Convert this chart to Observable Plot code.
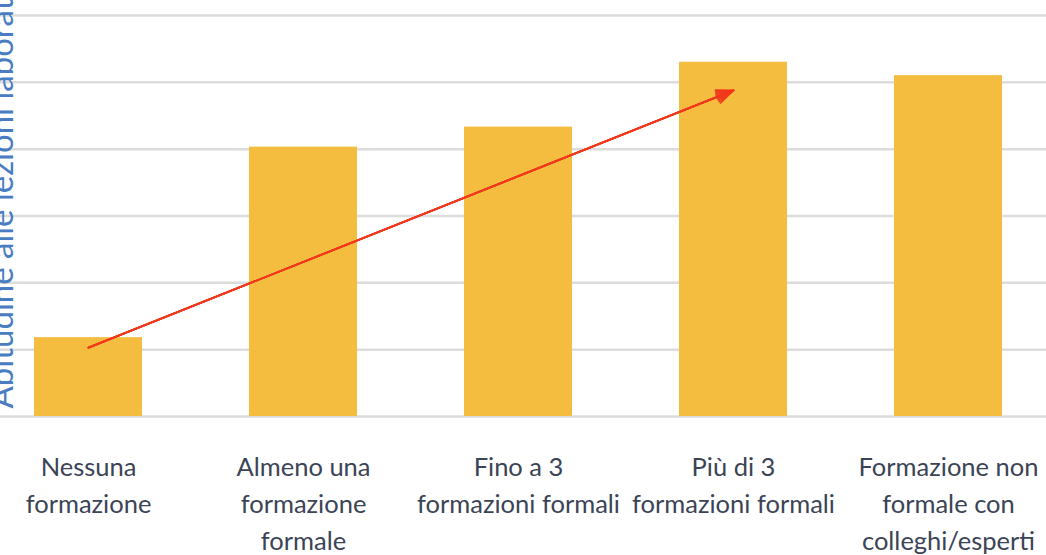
<!DOCTYPE html>
<html>
<head>
<meta charset="utf-8">
<script src="https://cdn.jsdelivr.net/npm/d3@7"></script>
<script src="https://cdn.jsdelivr.net/npm/@observablehq/plot@0.6"></script>
<style>
  html, body { margin: 0; padding: 0; background: #fff; overflow: hidden; }
</style>
</head>
<body>
<div id="chart"></div>
<script>
const categories = [
  "Nessuna\nformazione",
  "Almeno una\nformazione\nformale",
  "Fino a 3\nformazioni formali",
  "Più di 3\nformazioni formali",
  "Formazione non\nformale con\ncolleghi/esperti"
];
const values = [1.18, 4.03, 4.33, 5.30, 5.10];
const gridValues = [0, 1, 2, 3, 4, 5, 6];
const yTitle = "Abitudine alle lezioni laboratoriali";
const trendFrom = {category: categories[0], value: 1.03};
const trendTo = {category: categories[3], value: 4.88};

const data = categories.map((c, i) => ({category: c, value: values[i]}));

const chart = Plot.plot({
  width: 1046,
  height: 555,
  marginTop: 15,
  marginBottom: 139,
  marginLeft: 0,
  marginRight: 0,
  style: {fontFamily: "Lato, sans-serif", background: "#fff", overflow: "hidden"},
  x: {domain: categories, range: [-20, 1055], paddingInner: 0.5, paddingOuter: 0.25},
  y: {domain: [0, 6], axis: null},
  marks: [
    Plot.ruleY(gridValues, {stroke: "#dcdcdc", strokeWidth: 2.5}),
    Plot.barY(data, {x: "category", y: "value", fill: "#F4BD3F"}),
    Plot.axisX({tickSize: 0, tickPadding: 33, fontSize: 25.5, lineHeight: 1.45, fill: "#3b4456", label: null}),
    Plot.text([yTitle], {frameAnchor: "bottom-left", rotate: -90, textAnchor: "start", lineAnchor: "bottom", dx: 12, dy: -8, fontSize: 33, fill: "#4A7CC2"}),
    ...[44, 32, 20, 8].map(a => Plot.arrow([{x1: trendFrom.category, y1: trendFrom.value, x2: trendTo.category, y2: trendTo.value}], {x1: "x1", y1: "y1", x2: "x2", y2: "y2", stroke: "#F2381C", strokeWidth: 1.8, headLength: 15, headAngle: a}))
  ]
});
document.getElementById("chart").appendChild(chart);
</script>
</body>
</html>
